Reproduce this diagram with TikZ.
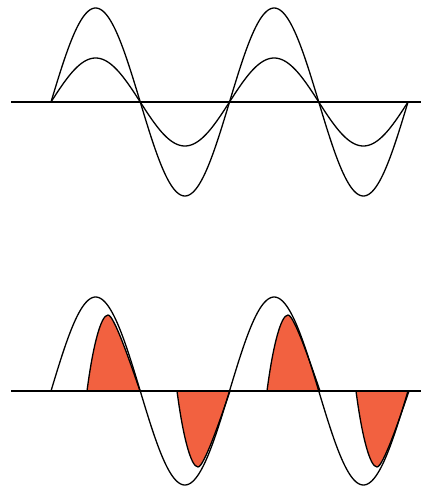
\documentclass[tikz,border=0pt]{standalone}
\usepackage{tikz}
\definecolor{lobe}{RGB}{242,97,64}
\tikzset{
  wave/.style={line width=1.3pt, black, line join=round},
  axisline/.style={line width=2pt, black},
  lobefill/.style={fill=lobe, draw=black, line width=1.3pt, line join=round},
}
\newcommand{\lobepath}{(0,0) .. controls (6,-46) and (14,-76) .. (21,-76) .. controls (27,-76) and (43,-29) .. (53,0) -- cycle}
\begin{document}
\begin{tikzpicture}[x=1pt,y=-1pt]
\useasboundingbox (0,0) rectangle (422,487);
% top
\draw[wave] plot[domain=51:408,samples=240] (\x,{102-94*sin((\x-51)/89.25*180)});
\draw[wave] plot[domain=51:408,samples=240] (\x,{102-44*sin((\x-51)/89.25*180)});
\draw[axisline] (11,102) -- (421,102);
% bottom lobes
\foreach \s in {87,267}{
  \begin{scope}[shift={(\s,391)}]
    \filldraw[lobefill] \lobepath;
  \end{scope}
}
\foreach \s in {177,356}{
  \begin{scope}[shift={(\s,391)},yscale=-1]
    \filldraw[lobefill] \lobepath;
  \end{scope}
}
\draw[wave] plot[domain=51:408,samples=240] (\x,{391-94*sin((\x-51)/89.25*180)});
\draw[axisline] (11,391) -- (421,391);
\end{tikzpicture}
\end{document}
